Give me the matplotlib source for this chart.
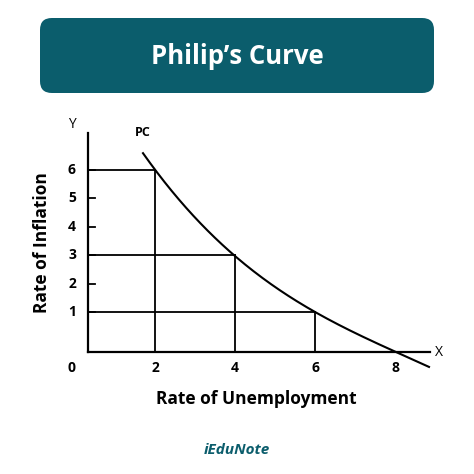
import matplotlib
matplotlib.use("Agg")
import matplotlib.pyplot as plt
from matplotlib.patches import FancyBboxPatch
import numpy as np

curve_x = [1.7, 2, 3, 4, 5, 6, 7, 8, 9]
curve_y = [6.6, 6, 4.3, 3, 1.9, 1, 0.3, -0.4, -1.0]
guide_x = [2, 4, 6]
guide_y = [6, 3, 1]
x_ticks = [2, 4, 6, 8]
y_ticks = [1, 2, 3, 4, 5, 6]

W = 474
fig = plt.figure(figsize=(W/100, W/100), dpi=100)
teal = "#0b5d6c"
def fx(p): return p / W
def fy(p): return 1 - p / W

box = FancyBboxPatch((fx(40), fy(93)), fx(394), 75/W, boxstyle="round,pad=0,rounding_size=0.025",
                     transform=fig.transFigure, facecolor=teal, edgecolor="none")
fig.patches.append(box)
fig.text(0.5, fy(56), "Philip’s Curve", color="white", fontsize=18.5, fontweight="bold",
         ha="center", va="center", family="Open Sans")

X0, X1 = 0.325, 8.875
ax = fig.add_axes([fx(88), fy(352), (430-88)/W, (352-120)/W])
ax.set_xlim(X0, X1)
ax.set_ylim(-0.39, 7.75)
ax.axis("off")
ax.plot([X0, X1], [-0.39, -0.39], color="black", lw=1.6, clip_on=False)
ax.plot([X0, X0], [-0.39, 7.3], color="black", lw=1.6, clip_on=False)

cs = np.polyfit(curve_x, curve_y, 3)
xs = np.linspace(curve_x[0], 8.85, 200)
ax.plot(xs, np.polyval(cs, xs), color="black", lw=1.5, clip_on=False)
for gx, gy in zip(guide_x, guide_y):
    ax.plot([X0, gx], [gy, gy], color="black", lw=1.3)
    ax.plot([gx, gx], [-0.39, gy], color="black", lw=1.3)
fs = 10
for t in y_ticks:
    ax.plot([X0, X0+0.18], [t, t], color="black", lw=1.3)
    ax.text(X0-0.3, t, str(t), ha="right", va="center", fontsize=fs, fontweight="bold", family="Open Sans")
for t in x_ticks:
    ax.text(t, -0.95, str(t), ha="center", va="center", fontsize=fs, fontweight="bold", family="Open Sans")
ax.text(X0-0.3, -0.95, "0", ha="right", va="center", fontsize=fs, fontweight="bold", family="Open Sans")
ax.text(X0-0.3, 7.6, "Y", ha="right", va="center", fontsize=fs, family="Open Sans")
ax.text(9.1, -0.39, "X", ha="center", va="center", fontsize=fs, family="Open Sans")
ax.text(1.7, 7.3, "PC", ha="center", va="center", fontsize=9, fontweight="bold", family="Open Sans")

fig.text(fx(42), fy(243), "Rate of Inflation", rotation=90, ha="center", va="center",
         fontsize=12.5, fontweight="bold", family="Open Sans")
fig.text(fx(256), fy(399), "Rate of Unemployment", ha="center", va="center",
         fontsize=12.5, fontweight="bold", family="Open Sans")
fig.text(fx(237), fy(450), "iEduNote", ha="center", va="center", color=teal,
         fontsize=11, fontweight="bold", style="italic", family="Open Sans")
fig.savefig("out.png", dpi=100)
